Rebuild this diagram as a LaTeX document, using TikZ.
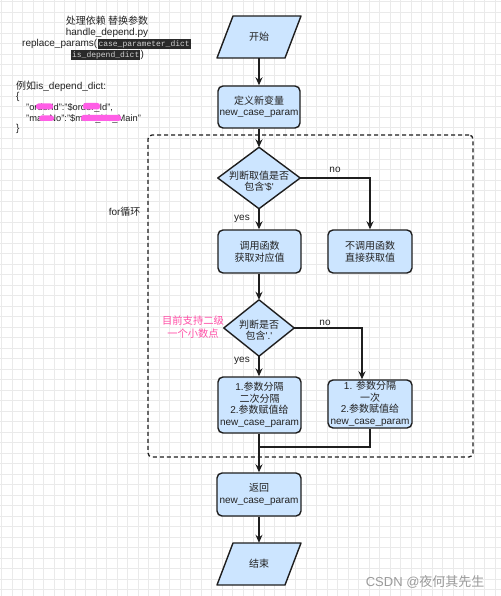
\documentclass[tikz,border=0pt]{standalone}
\usepackage{fontspec}
\setmainfont{Liberation Sans}
\setmonofont{Liberation Mono}
\newfontfamily\cjk{Noto Sans CJK SC}
\usetikzlibrary{arrows.meta}
\newcommand\zh[1]{{\cjk #1}}
\definecolor{boxfill}{HTML}{CCE5FF}
\definecolor{boxline}{HTML}{1E1E1E}
\definecolor{gridc}{HTML}{EAEAEA}
\definecolor{pinktxt}{HTML}{FF4FA7}
\definecolor{blob}{HTML}{FF5EE6}
\definecolor{hlbg}{HTML}{2A2A2A}
\definecolor{hltxt}{HTML}{D0D0D0}
\definecolor{txt}{HTML}{222222}
\definecolor{wmc}{HTML}{9A9A9A}
\begin{document}
\begin{tikzpicture}[x=1pt,y=-1pt,
  every node/.style={font=\fontsize{10}{11.5}\selectfont, text=txt},
  procbox/.style={draw=boxline, fill=boxfill, line width=1.4pt, rounded corners=5pt, align=center, inner sep=0pt},
  ghost/.style={inner sep=0pt, align=center},
  shapeline/.style={draw=boxline, fill=boxfill, line width=1.4pt, line join=round},
  flow/.style={draw=boxline, line width=1.4pt, -{Stealth[length=8pt,width=7pt]}},
  flowplain/.style={draw=boxline, line width=1.4pt},
  lbl/.style={font=\fontsize{10}{12}\selectfont},
  plain/.style={anchor=west, inner sep=0pt},
  example/.style={anchor=west, inner sep=0pt, font=\fontsize{9.3}{11}\selectfont},
  hl/.style={anchor=west, fill=hlbg, text=hltxt, font=\ttfamily\fontsize{8}{9}\selectfont, inner sep=0.9pt},
  loopframe/.style={draw=boxline, line width=1.3pt, dash pattern=on 4pt off 3pt, rounded corners=4pt, inner sep=0pt},
  blobby/.style={fill=blob, rounded corners=2.5pt},
]
\fill[white] (0,0) rectangle (500,596);
\useasboundingbox (0,0) rectangle (500,596);
\draw[gridc, line width=0.6pt, step=10.5pt, shift={(1.7pt,-1.7pt)}] (-1.7pt,1.7pt) grid (500pt,-596pt);

% top-left notes
\node (t1) at (107,21) {\zh{处理依赖 替换参数}};
\node (t2) at (107,32.5) {handle\_depend.py};
\node[plain] (t3) at (22,44) {replace\_params(};
\node[hl] (h1) at (t3.east) {case\_parameter\_dict};
\node[hl] (h2) at (71,55) {is\_depend\_dict};
\node[plain] (t4) at (h2.east) {)};

\node[plain] (e1) at (16,86) {\zh{例如}is\_depend\_dict:};
\node[plain] (e2) at (16,97) {\{};
\node[example] (e3) at (26,107.5) {"orderId":"\$order\_Id",};
\node[example] (e4) at (26,118.5) {"mainNo":"\$main\_No\_Main"};
\node[plain] (e5) at (16,129) {\}};
\fill[blobby] (36,103.5) rectangle (53,109.5);
\fill[blobby] (83,103) rectangle (100,109.5);
\fill[blobby] (39,115.5) rectangle (54,121);
\fill[blobby] (81,115) rectangle (121,121);

% loop frame
\node[loopframe, minimum width=325pt, minimum height=322pt] (loop) at (310.5,296) {};
\node[anchor=east] (forlbl) at (144,212) {for\zh{循环}};

% start
\draw[shapeline] (233,16) -- (301,16) -- (285,58) -- (217,58) -- cycle;
\node[ghost, minimum width=60pt, minimum height=42pt] (start) at (259,37) {\zh{开始}};

% boxes
\node[procbox, minimum width=82pt, minimum height=42pt] (b1) at (259,107) {\zh{定义新变量}\\new\_case\_param};

\node[ghost, minimum width=82pt, minimum height=61pt] (d1) at (259,178) {};
\draw[shapeline] (d1.north) -- (d1.east) -- (d1.south) -- (d1.west) -- cycle;
\node[ghost] (d1t) at (259,181) {\zh{判断取值是否}\\\zh{包含}\textquotesingle\$\textquotesingle};

\node[procbox, minimum width=83pt, minimum height=43pt] (b2) at (259.5,251.5) {\zh{调用函数}\\\zh{获取对应值}};
\node[procbox, minimum width=84pt, minimum height=43pt] (b3) at (370,251.5) {\zh{不调用函数}\\\zh{直接获取值}};

\node[ghost, minimum width=70pt, minimum height=56pt] (d2) at (259,328) {};
\draw[shapeline] (d2.north) -- (d2.east) -- (d2.south) -- (d2.west) -- cycle;
\node[ghost] (d2t) at (259,330) {\zh{判断是否}\\\zh{包含}\textquotesingle.\textquotesingle};

\node[text=pinktxt, align=center, font=\fontsize{10.3}{12.5}\selectfont] (note) at (193,327) {\zh{目前支持二级}\\\zh{一个小数点}};

\node[procbox, minimum width=83pt, minimum height=56pt] (b4) at (259.5,405) {1.\zh{参数分隔}\\\zh{二次分隔}\\2.\zh{参数赋值给}\\new\_case\_param};
\node[procbox, minimum width=84pt, minimum height=48pt] (b5) at (370,404) {1. \zh{参数分隔}\\\zh{一次}\\2.\zh{参数赋值给}\\new\_case\_param};

\node[procbox, minimum width=84pt, minimum height=43pt] (b6) at (259,494.5) {\zh{返回}\\new\_case\_param};

\draw[shapeline] (233,543) -- (301,543) -- (285,585) -- (217,585) -- cycle;
\node[ghost, minimum width=60pt, minimum height=42pt] (end) at (259,564) {\zh{结束}};

% labels
\node[lbl] (no1) at (335,170) {no};
\node[lbl] (yes1) at (242,219) {yes};
\node[lbl] (no2) at (325,323) {no};
\node[lbl] (yes2) at (242,361) {yes};

% connectors
\draw[flow] (start.south) -- (b1.north);
\draw[flow] (b1.south) -- (d1.north);
\draw[flow] (d1.south) -- (b2.north -| d1.south);
\draw[flow] (d1.east) -| (b3.north);
\draw[flow] (b2.south -| d2.north) -- (d2.north);
\draw[flow] (d2.south) -- (b4.north -| d2.south);
\draw[flow] (d2.east) -| ([xshift=-8pt]b5.north);
\coordinate (merge) at (259,447);
\draw[flowplain] (b5.south) |- (merge);
\draw[flow] (b4.south -| b6.north) -- (b6.north);
\draw[flow] (b6.south) -- (end.north);

\node[anchor=east, text=wmc, font=\fontsize{13}{14}\selectfont] (wm) at (488,582) {CSDN @\zh{夜何其先生}};
\end{tikzpicture}
\end{document}
